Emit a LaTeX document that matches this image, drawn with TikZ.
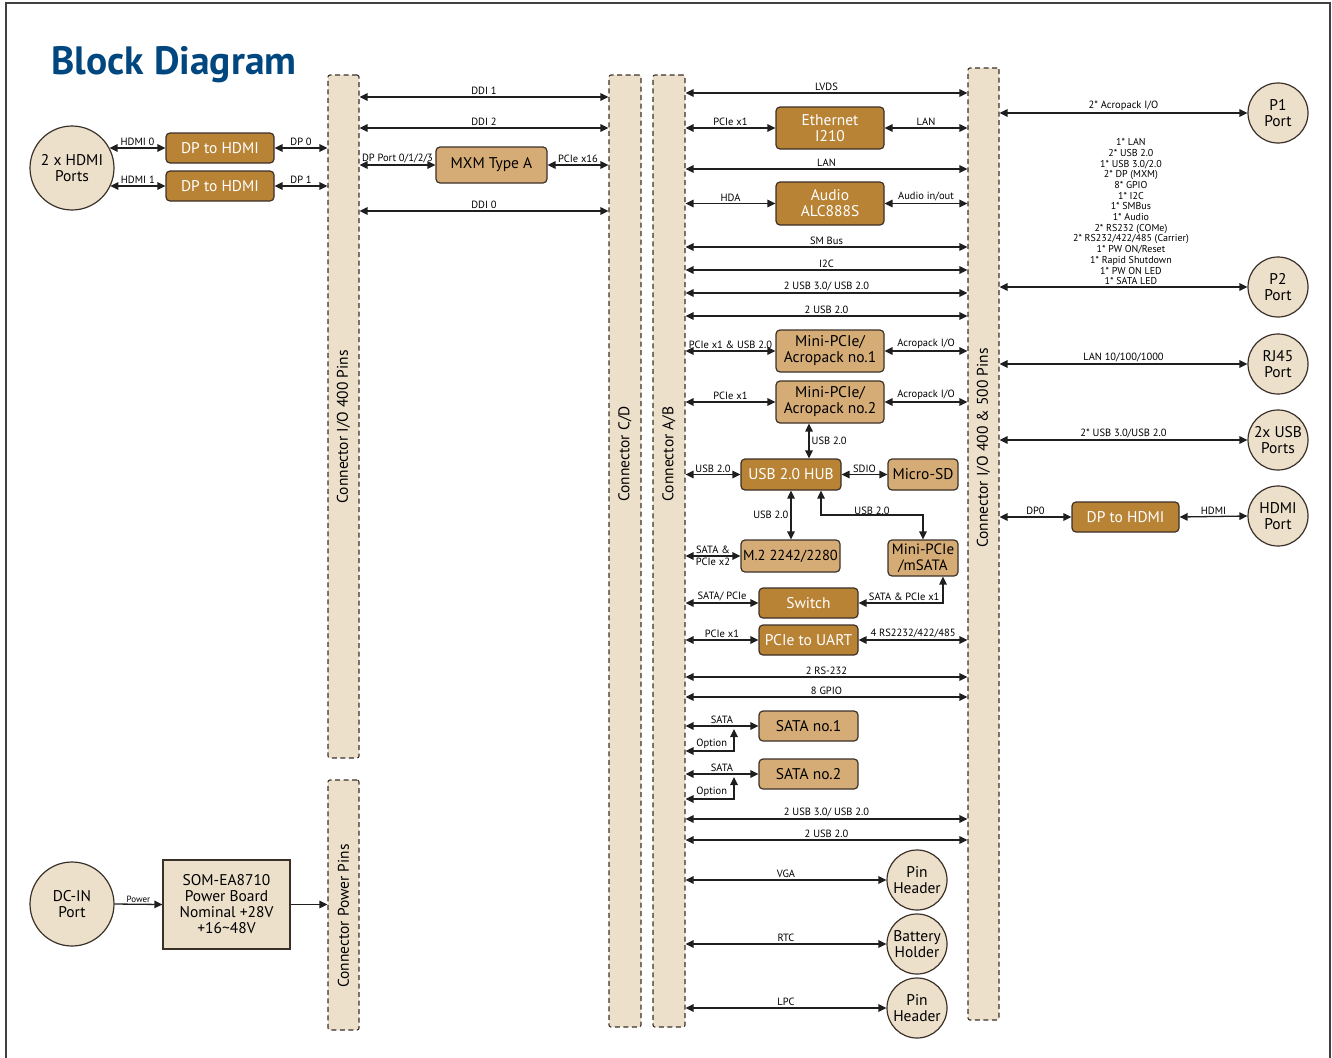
\documentclass[tikz,border=0pt]{standalone}
\usepackage{fontspec}
\setmainfont{PT Sans}
\usetikzlibrary{arrows.meta}
\definecolor{chipbrown}{RGB}{185,131,53}
\definecolor{partbrown}{RGB}{214,172,118}
\definecolor{padbeige}{RGB}{237,224,203}
\definecolor{edgegrey}{RGB}{58,48,40}
\definecolor{titleblue}{RGB}{0,70,127}
\tikzstyle{frame}=[
        draw=black!75,
        line width=2.5pt
]
\tikzstyle{connector}=[
        draw=edgegrey,
        fill=padbeige,
        dash pattern=on 5pt off 3.5pt,
        line width=1.1pt,
        rounded corners=2pt,
        inner sep=0pt
]
\tikzstyle{barlabel}=[
        rotate=90,
        font=\fontsize{15.5}{16}\selectfont
]
\tikzstyle{chip}=[
        draw=edgegrey,
        fill=chipbrown,
        text=white,
        rounded corners=4pt,
        line width=1.2pt,
        align=center,
        inner sep=0pt,
        font=\fontsize{15.5}{16}\selectfont
]
\tikzstyle{part}=[
        chip,
        fill=partbrown,
        text=black
]
\tikzstyle{port}=[
        circle,
        draw=edgegrey,
        fill=padbeige,
        line width=1.2pt,
        align=center,
        inner sep=0pt,
        font=\fontsize{15.5}{16}\selectfont
]
\tikzstyle{link}=[
        {Triangle[length=8pt,width=7.5pt]}-{Triangle[length=8pt,width=7.5pt]},
        line width=1.3pt,
        draw=black!88
]
\tikzstyle{feed}=[
        -{Triangle[length=8pt,width=7.5pt]},
        line width=1.3pt,
        draw=black!88
]
\tikzstyle{tag}=[
        font=\fontsize{10.5}{10.7}\selectfont,
        inner sep=1.5pt,
        above
]

\begin{document}
\begin{tikzpicture}[x=1pt,y=-1pt]
                        \useasboundingbox (0,0) rectangle (1332,1057);
                        \draw[frame] (6,3) rectangle (1330,1075);

                        \node[font=\fontsize{39.5}{41}\selectfont\bfseries, text=titleblue, anchor=west] (title) at (48,65) {Block Diagram};

                        \node[connector, minimum width=31pt, minimum height=683pt] (io4) at (343.5,416.5) {};
                        \node[connector, minimum width=31pt, minimum height=250pt] (pins) at (343.5,905) {};
                        \node[connector, minimum width=32pt, minimum height=952pt] (cd) at (625,551) {};
                        \node[connector, minimum width=32pt, minimum height=952pt] (ab) at (669,551) {};
                        \node[connector, minimum width=31pt, minimum height=952pt] (io5) at (983.5,544) {};
                        \node[barlabel] at (343.5,427) {Connector I/O 400 Pins};
                        \node[barlabel] at (343.5,916) {Connector Power Pins};
                        \node[barlabel] at (625,454) {Connector C/D};
                        \node[barlabel] at (669,454) {Connector A/B};
                        \node[barlabel] at (983.5,448) {Connector I/O 400 \& 500 Pins};

                        \node[port, minimum size=84pt] (hdmi2) at (72,168) {2 x HDMI\\Ports};
                        \node[chip, minimum width=108pt, minimum height=30pt] (dph0) at (220,148) {DP to HDMI};
                        \node[chip, minimum width=108pt, minimum height=30pt] (dph1) at (220,186) {DP to HDMI};
                        \node[part, minimum width=111pt, minimum height=36pt] (mxm) at (491.5,165) {MXM Type A};

                        \node[port, minimum size=84pt] (dcin) at (72,904) {DC-IN\\Port};
                        \node[part, rounded corners=0pt, fill=padbeige, minimum width=127pt, minimum height=89pt] (pwr) at (226.5,904.5) {SOM-EA8710\\Power Board\\Nominal +28V\\+16\textasciitilde48V};

                        \node[chip, minimum width=108pt, minimum height=42pt] (eth) at (830,128) {Ethernet\\I210};
                        \node[chip, minimum width=108pt, minimum height=43pt] (audio) at (830,203.5) {Audio\\ALC888S};
                        \node[part, minimum width=108pt, minimum height=42pt] (acro1) at (830,351) {Mini-PCIe/\\Acropack no.1};
                        \node[part, minimum width=108pt, minimum height=42pt] (acro2) at (830,402) {Mini-PCIe/\\Acropack no.2};
                        \node[chip, minimum width=100pt, minimum height=31pt] (hub) at (791,474.5) {USB 2.0 HUB};
                        \node[part, minimum width=70pt, minimum height=31pt] (msd) at (923,474.5) {Micro-SD};
                        \node[part, minimum width=99pt, minimum height=32pt, font=\fontsize{14.5}{16}\selectfont] (m2) at (790.5,556) {M.2 2242/2280};
                        \node[part, minimum width=70pt, minimum height=36pt, font=\fontsize{15}{16}\selectfont] (msata) at (923,558) {Mini-PCIe\\/mSATA};
                        \node[chip, minimum width=99pt, minimum height=30pt] (switch) at (808.5,603) {Switch};
                        \node[chip, minimum width=99pt, minimum height=30pt] (uart) at (808.5,640) {PCIe to UART};
                        \node[part, minimum width=99pt, minimum height=30pt] (sata1) at (808.5,726) {SATA no.1};
                        \node[part, minimum width=99pt, minimum height=30pt] (sata2) at (808.5,774) {SATA no.2};
                        \node[port, minimum size=60pt] (pinh1) at (917,880) {Pin\\Header};
                        \node[port, minimum size=60pt] (batt) at (917,944) {Battery\\Holder};
                        \node[port, minimum size=60pt] (pinh2) at (917,1008) {Pin\\Header};

                        \node[port, minimum size=60pt] (p1) at (1278,113) {P1\\Port};
                        \node[port, minimum size=60pt] (p2) at (1278,287) {P2\\Port};
                        \node[port, minimum size=60pt] (rj45) at (1278,364) {RJ45\\Port};
                        \node[port, minimum size=60pt] (usbp) at (1278,440) {2x USB\\Ports};
                        \node[port, minimum size=60pt] (hdmip) at (1278,516) {HDMI\\Port};
                        \node[chip, minimum width=107pt, minimum height=30pt] (dph2) at (1125.5,517) {DP to HDMI};

                        \coordinate (opt1) at (734,729);
                        \coordinate (opt2) at (734,777);

                        \draw[link] (dph0.west -| hdmi2.28) -- (dph0.west) node[tag, midway] {HDMI 0};
                        \draw[link] (dph1.west -| hdmi2.-26) -- (dph1.west) node[tag, midway] {HDMI 1};
                        \draw[link] (dph0.east) -- (io4.west |- dph0.east) node[tag, midway] {DP 0};
                        \draw[link] (dph1.east) -- (io4.west |- dph1.east) node[tag, midway] {DP 1};

                        \draw[link] (io4.east |- 0,97) -- (cd.west |- 0,97) node[tag, midway] {DDI 1};
                        \draw[link] (io4.east |- 0,128) -- (cd.west |- 0,128) node[tag, midway] {DDI 2};
                        \draw[link] (io4.east |- mxm.west) -- (mxm.west) node[tag, midway] {DP Port 0/1/2/3};
                        \draw[link] (mxm.east) -- (cd.west |- mxm.east) node[tag, midway] {PCIe x16};
                        \draw[link] (io4.east |- 0,211) -- (cd.west |- 0,211) node[tag, midway] {DDI 0};

                        \draw[feed] (dcin.east) -- (pwr.west) node[tag, midway, font=\fontsize{9}{10}\selectfont] {Power};
                        \draw[feed] (pwr.east) -- (pins.west |- pwr.east);

                        \foreach \y/\t in {93/LVDS, 169/LAN, 247/SM Bus, 270/I2C, 293/{2 USB 3.0/ USB 2.0}, 316/2 USB 2.0, 677/2 RS-232, 697/8 GPIO, 819/{2 USB 3.0/ USB 2.0}, 840/2 USB 2.0} {
                            \draw[link] (ab.east |- 0,\y) -- (io5.west |- 0,\y) node[tag, midway] {\t};
                        }

                        \draw[link] (ab.east |- eth.west) -- (eth.west) node[tag, midway] {PCIe x1};
                        \draw[link] (eth.east) -- (io5.west |- eth.east) node[tag, midway] {LAN};
                        \draw[link] (ab.east |- audio.west) -- (audio.west) node[tag, midway] {HDA};
                        \draw[link] (audio.east) -- (io5.west |- audio.east) node[tag, midway] {Audio in/out};
                        \draw[link] (ab.east |- acro1.west) -- (acro1.west) node[tag, midway] {PCIe x1 \& USB 2.0};
                        \draw[link] (acro1.east) -- (io5.west |- acro1.east) node[tag, midway] {Acropack I/O};
                        \draw[link] (ab.east |- acro2.west) -- (acro2.west) node[tag, midway] {PCIe x1};
                        \draw[link] (acro2.east) -- (io5.west |- acro2.east) node[tag, midway] {Acropack I/O};

                        \draw[link] (acro2.south -| 809,0) -- (hub.north -| 809,0) node[tag, midway, right, inner sep=2pt] {USB 2.0};
                        \draw[link] (ab.east |- hub.west) -- (hub.west) node[tag, midway] {USB 2.0};
                        \draw[link] (hub.east) -- (msd.west) node[tag, midway] {SDIO};
                        \draw[link] (hub.south) -- (hub.south |- m2.north) node[tag, midway, left, inner sep=2pt] {USB 2.0};
                        \draw[link] (hub.south -| 821,0) |- (msata.north |- 0,515) -- (msata.north);
                        \node[tag] at (872,516) {USB 2.0};
                        \draw[link] (ab.east |- m2.west) -- (m2.west) node[tag, midway] {SATA \&} node[tag, midway, below] {PCIe x2};

                        \draw[link] (ab.east |- switch.west) -- (switch.west) node[tag, midway] {SATA/ PCIe};
                        \draw[link] (switch.east) -| (msata.south -| 943,0) node[tag, pos=0.27] {SATA \& PCIe x1};
                        \draw[link] (ab.east |- uart.west) -- (uart.west) node[tag, midway] {PCIe x1};
                        \draw[link] (uart.east) -- (io5.west |- uart.east) node[tag, midway] {4 RS2232/422/485};

                        \draw[link] (ab.east |- sata1.west) -- (sata1.west) node[tag, midway] {SATA};
                        \draw[link] (ab.east |- 0,751) -| (opt1) node[tag, pos=0.27] {Option};
                        \draw[link] (ab.east |- sata2.west) -- (sata2.west) node[tag, midway] {SATA};
                        \draw[link] (ab.east |- 0,799) -| (opt2) node[tag, pos=0.27] {Option};

                        \draw[link] (ab.east |- pinh1.west) -- (pinh1.west) node[tag, midway] {VGA};
                        \draw[link] (ab.east |- batt.west) -- (batt.west) node[tag, midway] {RTC};
                        \draw[link] (ab.east |- pinh2.west) -- (pinh2.west) node[tag, midway] {LPC};

                        \draw[link] (io5.east |- p1.west) -- (p1.west) node[tag, midway] {2* Acropack I/O};
                        \draw[link] (io5.east |- p2.west) -- (p2.west) node[tag, pos=0.53, align=center, font=\fontsize{10}{10.7}\selectfont] {1* LAN\\2* USB 2.0\\1* USB 3.0/2.0\\2* DP (MXM)\\8* GPIO\\1* I2C\\1* SMBus\\1* Audio\\2* RS232 (COMe)\\2* RS232/422/485 (Carrier)\\1* PW ON/Reset\\1* Rapid Shutdown\\1* PW ON LED\\1* SATA LED};
                        \draw[link] (io5.east |- rj45.west) -- (rj45.west) node[tag, midway] {LAN 10/100/1000};
                        \draw[link] (io5.east |- usbp.west) -- (usbp.west) node[tag, midway] {2* USB 3.0/USB 2.0};
                        \draw[link] (io5.east |- dph2.west) -- (dph2.west) node[tag, midway] {DP0};
                        \draw[link] (dph2.east) -- (hdmip.west) node[tag, midway] {HDMI};

                    \end{tikzpicture}
\end{document}
